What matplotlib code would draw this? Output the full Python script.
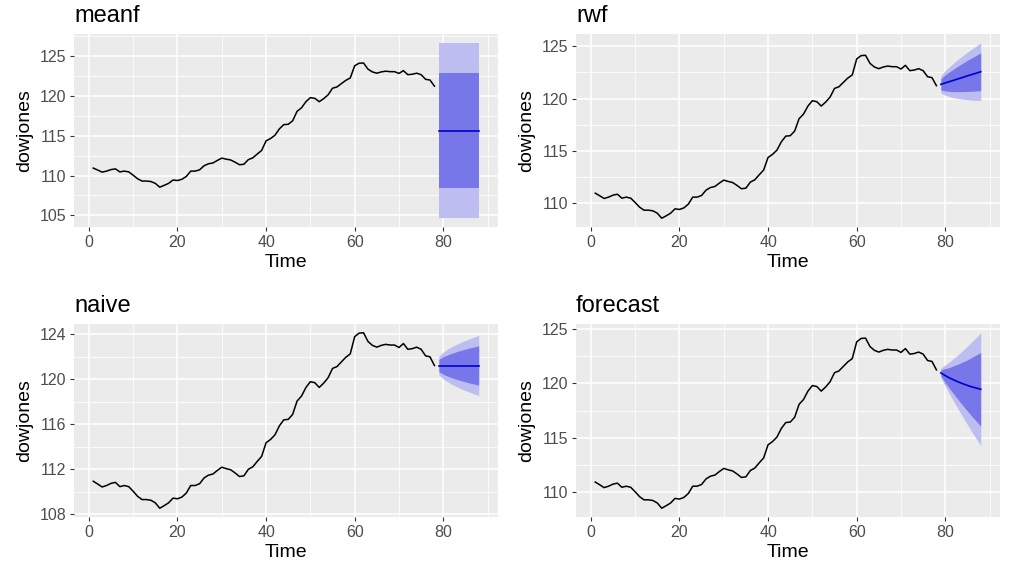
import matplotlib
matplotlib.use("Agg")
import matplotlib.pyplot as plt
from matplotlib.ticker import MultipleLocator, AutoMinorLocator

plt.rcParams['font.family'] = ['Liberation Sans', 'DejaVu Sans']

# Dow Jones index series (78 observations)
dowjones = [110.94, 110.69, 110.43, 110.56, 110.75, 110.84, 110.46, 110.56, 110.46, 110.05,
            109.60, 109.31, 109.31, 109.25, 109.02, 108.54, 108.77, 109.02, 109.44, 109.38,
            109.53, 109.89, 110.56, 110.56, 110.72, 111.23, 111.48, 111.58, 111.90, 112.19,
            112.06, 111.96, 111.68, 111.36, 111.42, 112.00, 112.22, 112.70, 113.15, 114.36,
            114.65, 115.06, 115.86, 116.40, 116.44, 116.88, 118.07, 118.51, 119.28, 119.79,
            119.70, 119.28, 119.66, 120.14, 120.97, 121.13, 121.55, 121.96, 122.26, 123.79,
            124.11, 124.14, 123.37, 123.02, 122.86, 123.02, 123.11, 123.05, 123.05, 122.83,
            123.18, 122.67, 122.73, 122.86, 122.67, 122.09, 122.00, 121.23]
time = list(range(1, 79))
fc_time = list(range(79, 89))

# meanf forecasts
meanf_mean = [115.66] * 10
meanf_lo80 = [108.43] * 10
meanf_hi80 = [122.89] * 10
meanf_lo95 = [104.64] * 10
meanf_hi95 = [126.68] * 10

# rwf (with drift) forecasts
rwf_mean = [121.36, 121.50, 121.63, 121.76, 121.90, 122.03, 122.17, 122.30, 122.43, 122.57]
rwf_lo80 = [120.82, 120.73, 120.68, 120.66, 120.66, 120.66, 120.68, 120.70, 120.72, 120.76]
rwf_hi80 = [121.90, 122.27, 122.58, 122.86, 123.14, 123.40, 123.66, 123.90, 124.14, 124.38]
rwf_lo95 = [120.53, 120.32, 120.18, 120.07, 120.00, 119.94, 119.90, 119.85, 119.82, 119.80]
rwf_hi95 = [122.19, 122.68, 123.08, 123.45, 123.80, 124.12, 124.44, 124.75, 125.04, 125.34]

# naive forecasts
naive_mean = [121.23] * 10
naive_lo80 = [120.68, 120.45, 120.28, 120.13, 120.00, 119.88, 119.77, 119.67, 119.58, 119.49]
naive_hi80 = [121.78, 122.01, 122.18, 122.33, 122.46, 122.58, 122.69, 122.79, 122.88, 122.97]
naive_lo95 = [120.39, 120.04, 119.77, 119.54, 119.35, 119.17, 119.00, 118.85, 118.70, 118.56]
naive_hi95 = [122.07, 122.42, 122.69, 122.92, 123.11, 123.29, 123.46, 123.61, 123.76, 123.90]

# forecast() (damped ETS) forecasts
fcst_mean = [120.95, 120.70, 120.48, 120.29, 120.11, 119.95, 119.80, 119.67, 119.56, 119.45]
fcst_lo80 = [120.66, 120.06, 119.50, 118.96, 118.44, 117.94, 117.45, 116.97, 116.52, 116.07]
fcst_hi80 = [121.24, 121.34, 121.46, 121.62, 121.78, 121.96, 122.15, 122.37, 122.60, 122.83]
fcst_lo95 = [120.50, 119.72, 118.98, 118.26, 117.56, 116.87, 116.20, 115.54, 114.91, 114.27]
fcst_hi95 = [121.40, 121.68, 121.98, 122.32, 122.66, 123.03, 123.40, 123.80, 124.21, 124.63]

titles = ["meanf", "rwf", "naive", "forecast"]
ystep = [5, 5, 4, 5]
panels = [
    (meanf_mean, meanf_lo80, meanf_hi80, meanf_lo95, meanf_hi95),
    (rwf_mean, rwf_lo80, rwf_hi80, rwf_lo95, rwf_hi95),
    (naive_mean, naive_lo80, naive_hi80, naive_lo95, naive_hi95),
    (fcst_mean, fcst_lo80, fcst_hi80, fcst_lo95, fcst_hi95),
]

W, H = 1014, 572
fig = plt.figure(figsize=(W / 100, H / 100), dpi=100)
fig.patch.set_facecolor("white")

boxes = [(74, 34, 498, 227), (576, 34, 1000, 227), (74, 324, 498, 517), (576, 324, 1000, 517)]

for i, (title, (m, l80, h80, l95, h95)) in enumerate(zip(titles, panels)):
    x0, y0, x1, y1 = boxes[i]
    ax = fig.add_axes([x0 / W, 1 - y1 / H, (x1 - x0) / W, (y1 - y0) / H])
    ax.set_facecolor("#EBEBEB")
    for s in ax.spines.values():
        s.set_visible(False)
    ax.fill_between(fc_time, l95, h95, color="#BDBDF2", linewidth=0, zorder=2)
    ax.fill_between(fc_time, l80, h80, color="#7777E9", linewidth=0, zorder=3)
    ax.plot(fc_time, m, color="#0000CC", linewidth=1.2, zorder=4)
    ax.plot(time, dowjones, color="black", linewidth=1.1, zorder=4)
    ax.margins(x=0.05, y=0.05)
    ax.xaxis.set_major_locator(MultipleLocator(20))
    ax.yaxis.set_major_locator(MultipleLocator(ystep[i]))
    ax.xaxis.set_minor_locator(AutoMinorLocator(2))
    ax.yaxis.set_minor_locator(AutoMinorLocator(2))
    ax.grid(which="major", color="white", linewidth=1.1, zorder=0)
    ax.grid(which="minor", color="white", linewidth=0.55, zorder=0)
    ax.set_axisbelow(True)
    ax.tick_params(which="major", length=3.2, width=0.8, color="#333333",
                   labelcolor="#4D4D4D", labelsize=11.5, pad=2.5)
    ax.tick_params(which="minor", length=0)
    ax.set_xlabel("Time", fontsize=14, labelpad=3)
    ax.set_ylabel("dowjones", fontsize=14, labelpad=4.5)
    ax.set_title(title, loc="left", fontsize=17, pad=8.5)

fig.savefig("out.png", dpi=100)
